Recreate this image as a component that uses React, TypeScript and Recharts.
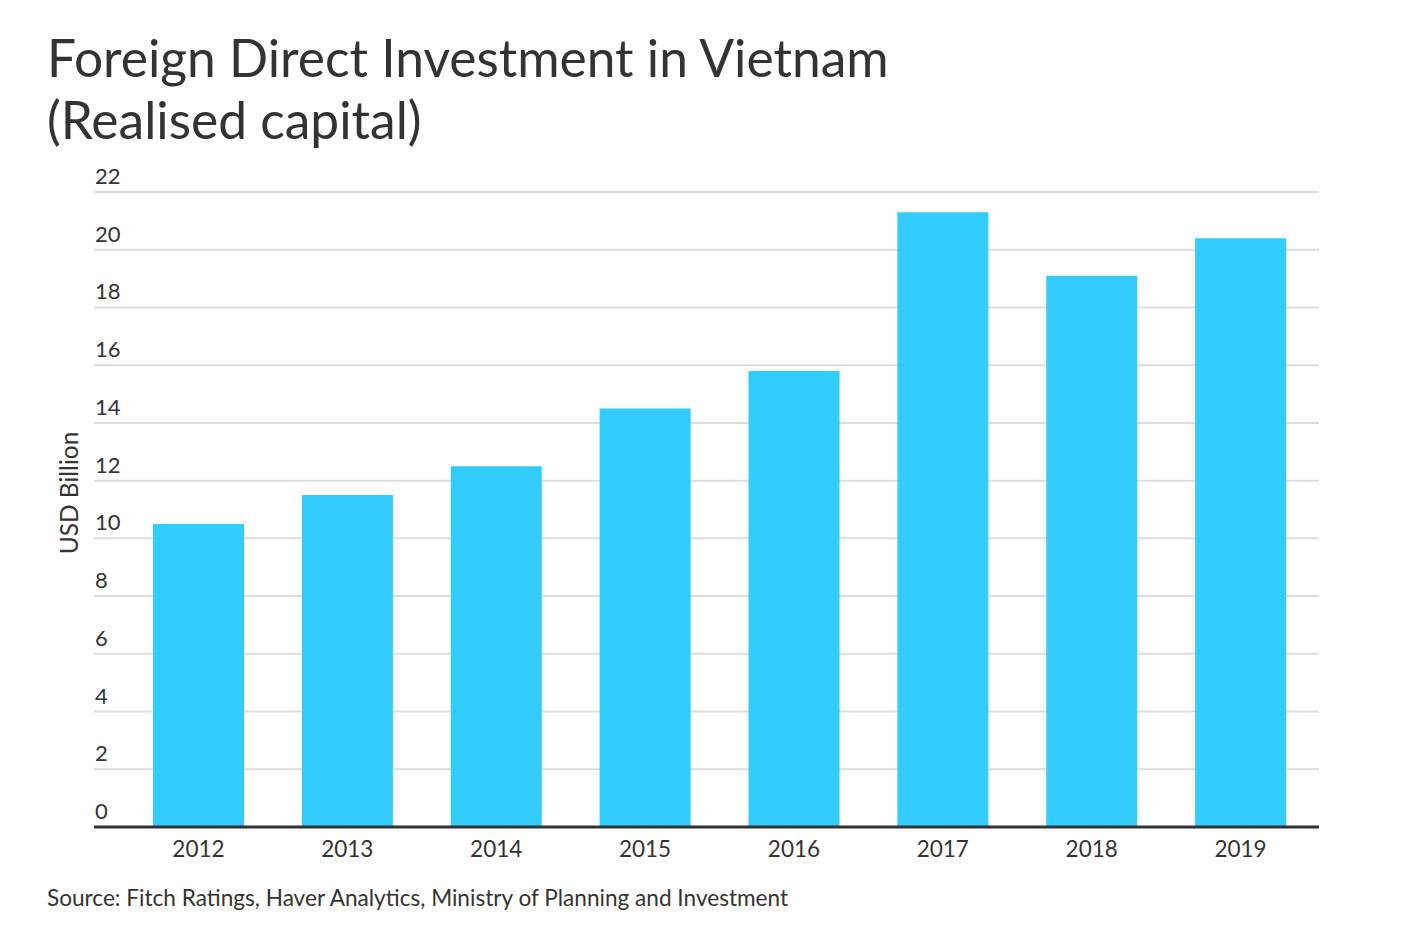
import React from 'react';
import { BarChart, Bar, XAxis, YAxis, CartesianGrid } from 'recharts';

const years: string[] = ['2012', '2013', '2014', '2015', '2016', '2017', '2018', '2019'];
const realisedCapital: number[] = [10.5, 11.5, 12.5, 14.5, 15.8, 21.3, 19.1, 20.4];
const yTicks: number[] = [0, 2, 4, 6, 8, 10, 12, 14, 16, 18, 20, 22];

const data = years.map((year, i) => ({ year, value: realisedCapital[i] }));

const FONT = 'Lato, "Open Sans", sans-serif';
const TEXT = '#333333';
const PLOT_LEFT = 94;

const YTick = ({ y, payload }: any) => (
  <text x={PLOT_LEFT + 1} y={y - 8} fill={TEXT} fontSize={22} fontFamily={FONT} textAnchor="start">
    {payload.value}
  </text>
);

const XTick = ({ x, y, payload }: any) => (
  <text x={x} y={y + 22} fill={TEXT} fontSize={22.5} fontFamily={FONT} textAnchor="middle">
    {payload.value}
  </text>
);

const App: React.FC = () => {
  return (
    <div style={{ position: 'absolute', top: 0, left: 0, width: 1402, height: 928, background: '#fff', fontFamily: FONT, color: TEXT }}>
      {/* title */}
      <div style={{ position: 'absolute', left: 47, top: 26, fontSize: 51.5, lineHeight: '62px' }}>
        Foreign Direct Investment in Vietnam
        <br />
        (Realised capital)
      </div>

      {/* y axis title */}
      <div
        style={{
          position: 'absolute',
          left: 68,
          top: 493,
          fontSize: 24.5,
          whiteSpace: 'nowrap',
          transform: 'translate(-50%, -50%) rotate(-90deg)',
        }}
      >
        USD Billion
      </div>

      <div style={{ position: 'absolute', left: 0, top: 0 }}>
        <BarChart
          width={1402}
          height={928}
          data={data}
          margin={{ top: 192, right: 83, bottom: 71, left: PLOT_LEFT - 2 }}
        >
          <CartesianGrid vertical={false} stroke="#dddddd" strokeWidth={2} />
          <XAxis
            dataKey="year"
            axisLine={{ stroke: '#333333', strokeWidth: 3 }}
            tickLine={false}
            tick={<XTick />}
            padding={{ left: 30, right: 4 }}
            height={30}
            interval={0}
          />
          <YAxis
            domain={[0, 22]}
            ticks={yTicks}
            axisLine={false}
            tickLine={false}
            tick={<YTick />}
            width={2}
            interval={0}
          />
          <Bar dataKey="value" fill="#33ccff" barSize={91} isAnimationActive={false} />
        </BarChart>
      </div>

      {/* source */}
      <div style={{ position: 'absolute', left: 47, top: 884, fontSize: 22.6 }}>
        Source: Fitch Ratings, Haver Analytics, Ministry of Planning and Investment
      </div>
    </div>
  );
};

export default App;
